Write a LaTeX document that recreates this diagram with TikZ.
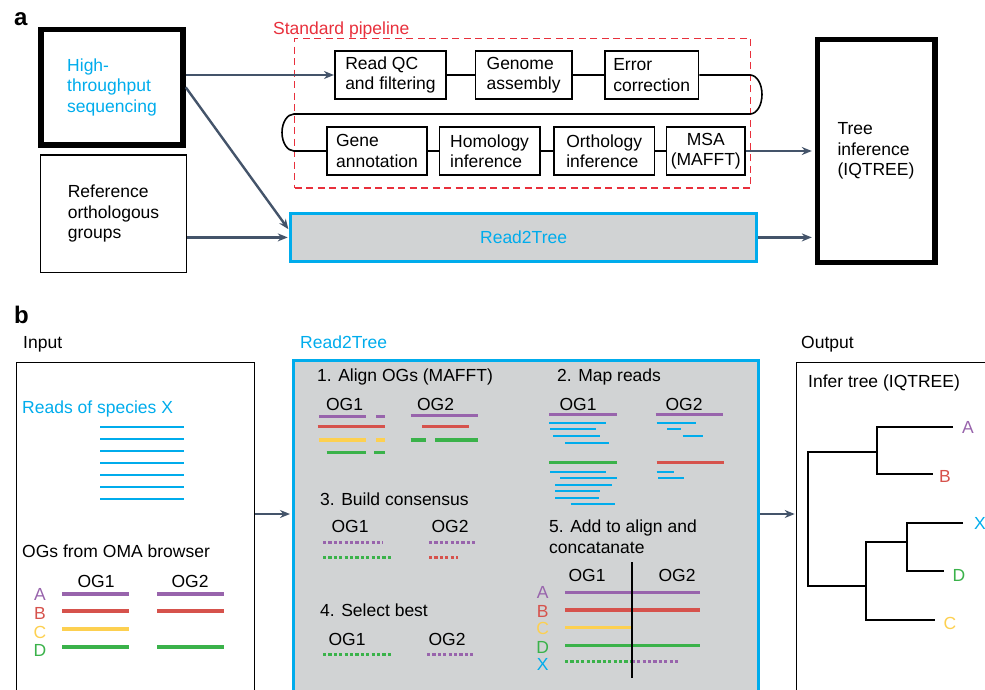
\documentclass[tikz,border=0pt]{standalone}
\usepackage{fontspec}
\setmainfont{Liberation Sans}
\usetikzlibrary{arrows.meta,positioning}
\definecolor{rtcyan}{RGB}{0,172,236}
\definecolor{pipered}{RGB}{232,48,60}
\definecolor{arrowgray}{RGB}{68,84,106}
\definecolor{boxgray}{RGB}{209,211,212}
\definecolor{ogA}{RGB}{152,100,172}
\definecolor{ogB}{RGB}{214,82,76}
\definecolor{ogC}{RGB}{253,208,80}
\definecolor{ogD}{RGB}{58,178,74}

\begin{document}
\begin{tikzpicture}[x=1pt,y=-1pt,font=\fontsize{17.5}{20.5}\selectfont,
  flow/.style={draw=arrowgray,line width=2.4pt,-{Stealth[length=10pt,width=8pt]}},
  stagebox/.style={draw,line width=1.6pt,minimum height=48.5pt,align=left,inner sep=2pt},
  heavybox/.style={draw,line width=5.5pt,align=left},
  thinbox/.style={draw,line width=1.6pt},
  r2tbox/.style={draw=rtcyan,fill=boxgray,line width=3pt},
  seq/.style={line width=3.4pt},
  cons/.style={line width=3pt,dash pattern=on 3.2pt off 2.2pt},
  rd/.style={rtcyan,line width=1.9pt},
  branch/.style={line width=2.2pt},
  txt/.style={anchor=base west,inner sep=0pt},
  og/.style={anchor=base,inner sep=0pt},
  tag/.style={anchor=base west,inner sep=0pt,font=\fontsize{24}{24}\selectfont\bfseries}]
\clip (0,0) rectangle (985,689);

\node[tag] (taga) at (14,25) {a};
\node[heavybox,text=rtcyan,minimum width=142pt,minimum height=115.5pt] (hts) at (112,87.3) {High-\\throughput\\sequencing};
\node[thinbox,align=left,minimum width=146pt,minimum height=117.5pt] (ref) at (113.5,213.7) {Reference\\orthologous\\groups};
\node[draw=pipered,line width=1.6pt,dash pattern=on 7pt off 4.5pt,minimum width=456pt,minimum height=149.5pt] (stdpipe) at (522.5,113.3) {};
\node[txt,text=pipered] (stdlbl) at (273,34) {Standard pipeline};
\node[heavybox,minimum width=117.5pt,minimum height=223pt] (tree) at (876,151) {Tree\\inference\\(IQTREE)};
\node[r2tbox,minimum width=465.7pt,minimum height=48.8pt,text=rtcyan] (r2ta) at (523.6,237.4) {Read2Tree};

\node[stagebox,minimum width=111.5pt] (rqc) at (390.5,75) {Read QC\\and filtering};
\node[stagebox,minimum width=96.5pt,right=27.5pt of rqc] (gen) {Genome\\assembly};
\node[stagebox,minimum width=93.5pt,right=31.5pt of gen] (err) {Error\\correction};
\node[stagebox,minimum width=100.5pt] (gene) at (377,151) {Gene\\annotation};
\node[stagebox,minimum width=100.5pt,right=10.5pt of gene] (hom) {Homology\\inference};
\node[stagebox,minimum width=100.5pt,right=12.5pt of hom] (orth) {Orthology\\inference};
\node[stagebox,minimum width=78.5pt,align=center,right=10.5pt of orth] (msa) {MSA\\(MAFFT)};

\draw[line width=1.6pt] (rqc)--(gen)(gen)--(err)(gene)--(hom)(hom)--(orth)(orth)--(msa);
\draw[line width=1.6pt] (err.east) -- (750,75) arc[start angle=-90,end angle=90,x radius=12,y radius=19.5]
  -- (294,114) arc[start angle=-90,end angle=-270,x radius=12,y radius=18.5] -- (gene.west);

\draw[flow] (hts.east |- rqc) -- (rqc);
\draw[flow,shorten >=1.5pt] (hts.east) -- ([yshift=7pt]r2ta.west);
\draw[flow,shorten >=1.5pt] (ref.east |- r2ta) -- (r2ta);
\draw[flow,shorten >=2.7pt] (msa) -- (msa -| tree.west);
\draw[flow,shorten >=2.7pt] (r2ta) -- (r2ta -| tree.west);

\node[tag] (tagb) at (14,323) {b};
\node[txt] (inlbl) at (23,348) {Input};
\node[txt,text=rtcyan] (r2tlbl) at (300,348) {Read2Tree};
\node[txt] (outlbl) at (801,348) {Output};
\node[thinbox,minimum width=238pt,minimum height=360pt,anchor=north west,inner sep=0pt] (inbox) at (15.5,361.5) {};
\node[r2tbox,minimum width=465.8pt,minimum height=360pt,anchor=north west,inner sep=0pt] (r2tb) at (291.5,358.5) {};
\node[thinbox,minimum width=220pt,minimum height=360pt,anchor=north west,inner sep=0pt] (outbox) at (795.5,361.5) {};
\coordinate (lvl) at (0,514);
\draw[flow,shorten >=1.5pt] (inbox.east |- lvl) -- (r2tb.west |- lvl);
\draw[flow,shorten >=0.8pt] (r2tb.east |- lvl) -- (outbox.west |- lvl);

\node[txt,text=rtcyan] (readsx) at (22,413) {Reads of species X};
\foreach \k in {0,...,6}
  \draw[rtcyan,line width=2pt] (100,{426.5+12*\k}) -- (184,{426.5+12*\k});
\node[txt] (omalbl) at (22,557) {OGs from OMA browser};
\node[og] (inog1) at (96,587) {OG1};
\node[og] (inog2) at (190,587) {OG2};
\node[og,text=ogA] (inA) at (40,600) {A};
\node[og,text=ogB] (inB) at (40,619) {B};
\node[og,text=ogC] (inC) at (40,638) {C};
\node[og,text=ogD] (inD) at (40,656) {D};
\draw[seq,ogA] (62,594)--(129,594)(157,594)--(224,594);
\draw[seq,ogB] (62,611)--(129,611)(157,611)--(224,611);
\draw[seq,ogC] (62,629)--(129,629);
\draw[seq,ogD] (62,647)--(129,647)(157,647)--(224,647);

\node[txt] (step1) at (317,381) {1. Align OGs (MAFFT)};
\node[og] (s1og1) at (344.5,410) {OG1};
\node[og] (s1og2) at (435.5,410) {OG2};
\draw[seq,ogA] (319,416.7)--(366,416.7)(376,416.7)--(385,416.7)(410.7,415.7)--(478.3,415.7);
\draw[seq,ogB] (317.7,426.7)--(385,426.7)(422.3,426.7)--(469,426.7);
\draw[seq,ogC] (319,440)--(366,440)(376,440)--(385,440);
\draw[seq,ogD] (326.7,452.7)--(366,452.7)(374,452.7)--(385,452.7)(410.7,440)--(426,440)(435,440)--(478.3,440);

\node[txt] (step2) at (557,381) {2. Map reads};
\node[og] (s2og1) at (578,410) {OG1};
\node[og] (s2og2) at (684,410) {OG2};
\draw[seq,ogA] (549.3,414.3)--(617.3,414.3)(655.7,414.3)--(723.3,414.3);
\draw[seq,ogD] (549.3,462.7)--(617.3,462.7);
\draw[seq,ogB] (656.7,462.7)--(724,462.7);
\draw[rd] (549,422.7)--(606,422.7)(550,429)--(596,429)(553,436)--(600,436)(565,442.7)--(609,442.7)
  (656.7,422.7)--(695.7,422.7)(667,429)--(680.7,429)(682.7,435.7)--(702.7,435.7)
  (550,471.7)--(606,471.7)(560,478.3)--(617,478.3)(555,485)--(611.7,485)(555,491)--(600,491)
  (555,497.7)--(599,497.7)(570.7,503.7)--(615,503.7)
  (656.7,471.7)--(674,471.7)(658,478.3)--(684,478.3);

\node[txt] (step3) at (320,505) {3. Build consensus};
\node[og] (s3og1) at (350,532) {OG1};
\node[og] (s3og2) at (450,532) {OG2};
\draw[cons,ogA] (323,542)--(383,542)(429,542)--(477,542);
\draw[cons,ogD] (323,557)--(391,557);
\draw[cons,ogB] (429,557)--(458,557);

\node[txt] (step4) at (320,616) {4. Select best};
\node[og] (s4og1) at (347,645) {OG1};
\node[og] (s4og2) at (447,645) {OG2};
\draw[cons,ogD] (323,654)--(391,654);
\draw[cons,ogA] (427,654)--(474,654);

\node[txt,align=left] (step5) at (549,553) {5. Add to align and\\concatanate};
\node[og] (s5og1) at (587,581) {OG1};
\node[og] (s5og2) at (677,581) {OG2};
\node[og,text=ogA] (s5A) at (542.7,598.5) {A};
\node[og,text=ogB] (s5B) at (542.7,617) {B};
\node[og,text=ogC] (s5C) at (542.7,634.5) {C};
\node[og,text=ogD] (s5D) at (542.7,653) {D};
\node[og,text=rtcyan] (s5X) at (542.7,670) {X};
\draw[seq,ogA] (565,592.3)--(700,592.3);
\draw[seq,ogB] (565,610)--(700,610);
\draw[seq,ogC] (565,627.7)--(631.7,627.7);
\draw[seq,ogD] (565,645.7)--(700,645.7);
\draw[cons,ogD] (565,661)--(631.7,661);
\draw[cons,ogA] (631.7,661)--(680,661);
\draw[line width=1.7pt] (632.3,562.3)--(632.3,677.7);

\node[txt] (infer) at (808,387) {Infer tree (IQTREE)};
\coordinate (tA) at (953,427);
\coordinate (tB) at (933,474);
\coordinate (tX) at (963,523);
\coordinate (tD) at (944,571);
\coordinate (tC) at (935,620);
\coordinate (nAB) at (877,452);
\coordinate (nXD) at (907,542);
\coordinate (nCXD) at (866,586);
\coordinate (root) at (808,519);
\draw[branch] (tA) -| (nAB) |- (tB);
\draw[branch] (tX) -| (nXD) |- (tD);
\draw[branch] (nXD) -| (nCXD) |- (tC);
\draw[branch] (nAB) -| (root) |- (nCXD);
\node[text=ogA] (lA) at (968,427) {A};
\node[text=ogB] (lB) at (945,476) {B};
\node[text=rtcyan] (lX) at (980,523) {X};
\node[text=ogD] (lD) at (959,575) {D};
\node[text=ogC] (lC) at (950,623) {C};
\end{tikzpicture}
\end{document}
